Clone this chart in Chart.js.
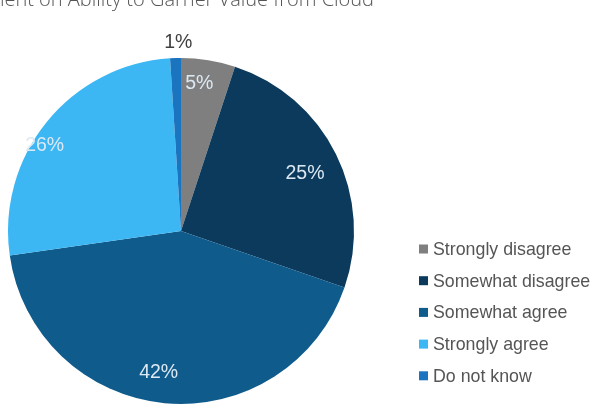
<!DOCTYPE html>
<html>
<head>
<meta charset="utf-8">
<script src="https://cdn.jsdelivr.net/npm/chart.js@4/dist/chart.umd.min.js"></script>
<style>
  html, body { margin: 0; padding: 0; background: #ffffff; overflow: hidden; }
  #wrap { position: relative; width: 597px; height: 417px; }
</style>
</head>
<body>
<div id="wrap"><canvas id="c" width="597" height="417"></canvas></div>
<script>
const titleText = "Agreement on Ability to Garner Value from Cloud";
const categories = ["Strongly disagree", "Somewhat disagree", "Somewhat agree", "Strongly agree", "Do not know"];
const values = [5, 25, 42, 26, 1];
const valueLabels = ["5%", "25%", "42%", "26%", "1%"];
const colors = ["#7f7f7f", "#0b3a5c", "#0f5b8c", "#3cb7f4", "#1a74c0"];

const labelPlugin = {
  id: 'sliceLabels',
  afterDatasetsDraw(chart, args, opts) {
    const ctx = chart.ctx;
    const meta = chart.getDatasetMeta(0);
    ctx.save();
    ctx.font = '19.5px "Liberation Sans", Arial, sans-serif';
    ctx.textAlign = 'center';
    ctx.textBaseline = 'middle';
    meta.data.forEach((arc, i) => {
      const p = arc.getProps(['x', 'y', 'startAngle', 'endAngle', 'outerRadius'], true);
      const mid = (p.startAngle + p.endAngle) / 2 + opts.angleShift[i] * Math.PI / 180;
      const f = opts.radiusFactors[i];
      const x = p.x + Math.cos(mid) * p.outerRadius * f;
      const y = p.y + Math.sin(mid) * p.outerRadius * f;
      ctx.fillStyle = f > 1 ? '#404040' : '#dce9f3';
      ctx.fillText(valueLabels[i], x, y);
    });
    ctx.restore();
  }
};

const legendTitlePlugin = {
  id: 'customLegend',
  afterDraw(chart, args, opts) {
    const ctx = chart.ctx;
    ctx.save();
    // clipped title
    ctx.font = '300 20px "Open Sans", sans-serif';
    ctx.fillStyle = '#555555';
    ctx.textAlign = 'right';
    ctx.textBaseline = 'alphabetic';
    ctx.fillText(titleText, opts.titleRight, opts.titleBaseline);
    // legend
    ctx.font = '17.8px "Liberation Sans", Arial, sans-serif';
    ctx.textAlign = 'left';
    ctx.textBaseline = 'middle';
    chart.data.labels.forEach((lab, i) => {
      const y = opts.top + i * opts.spacing;
      ctx.fillStyle = chart.data.datasets[0].backgroundColor[i];
      ctx.fillRect(opts.left, y - 4.5, 9, 9);
      ctx.fillStyle = '#555555';
      ctx.fillText(lab, opts.left + 14, y + 1);
    });
    ctx.restore();
  }
};

new Chart(document.getElementById('c'), {
  type: 'pie',
  data: {
    labels: categories,
    datasets: [{
      data: values,
      backgroundColor: colors,
      borderWidth: 0
    }]
  },
  options: {
    responsive: false,
    animation: false,
    rotation: 0,
    layout: { padding: { left: 8, right: 243, top: 58, bottom: 13 } },
    plugins: {
      legend: { display: false },
      tooltip: { enabled: false },
      sliceLabels: { radiusFactors: [0.86, 0.79, 0.83, 0.93, 1.09], angleShift: [-2, 1.5, 3.5, -7, 1] },
      customLegend: { titleRight: 374, titleBaseline: 6, left: 419, top: 249, spacing: 31.7 }
    }
  },
  plugins: [labelPlugin, legendTitlePlugin]
});
</script>
</body>
</html>
